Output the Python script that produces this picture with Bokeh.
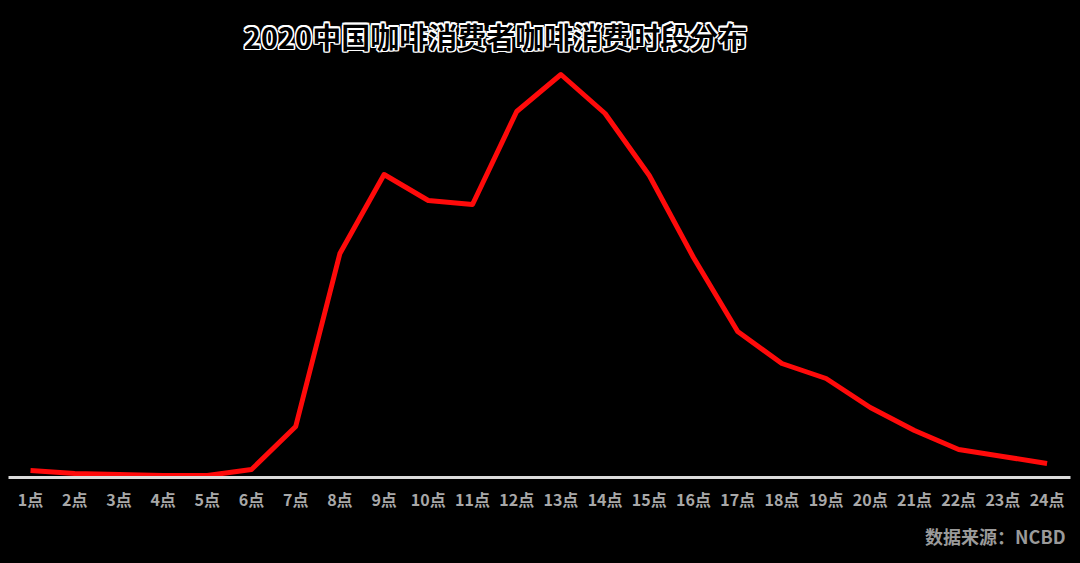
from bokeh.plotting import figure
from bokeh.models import FixedTicker, Range1d, Label, Title
from bokeh.embed import file_html
from bokeh.resources import INLINE

hours = list(range(1, 25))
hour_labels = [f"{h}点" for h in hours]
share = [7, 4, 3, 2, 2, 8, 51, 224, 303, 277, 273, 366, 403, 364, 302, 220,
         146, 114, 99, 70, 47, 28, 21, 14]
title_text = "2020中国咖啡消费者咖啡消费时段分布"
source_text = "数据来源：NCBD"

FONT = "Noto Sans CJK SC"

p = figure(width=1080, height=563, output_backend="svg", toolbar_location=None,
           x_range=Range1d(0.502, 24.53), y_range=Range1d(0, 477),
           min_border_left=8, min_border_right=10, min_border_top=0,
           min_border_bottom=86)
p.background_fill_color = "black"
p.border_fill_color = "black"
p.outline_line_color = None
p.grid.visible = False
p.yaxis.visible = False

p.line(hours, share, line_color="#ff0a0a", line_width=5, line_join="round")

ax = p.xaxis[0]
ax.ticker = FixedTicker(ticks=hours)
ax.major_label_overrides = {h: lab for h, lab in zip(hours, hour_labels)}
ax.axis_line_color = "#dcdcdc"
ax.axis_line_width = 3
ax.major_tick_line_color = None
ax.minor_tick_line_color = None
ax.major_tick_out = 0
ax.major_tick_in = 0
ax.major_label_standoff = 9
ax.major_label_text_color = "#a8a8a8"
ax.major_label_text_font = FONT
ax.major_label_text_font_style = "bold"
ax.major_label_text_font_size = "16px"

# title: black text with white outline
offs = [(-1.5, 0), (1.5, 0), (0, -1.5), (0, 1.5), (-1.2, -1.2), (1.2, 1.2), (-1.2, 1.2), (1.2, -1.2)]
for dx, dy in offs:
    p.add_layout(Label(x=487 + dx, y=442 + dy, x_units="screen", y_units="screen",
                       text=title_text, text_align="center", text_baseline="middle",
                       text_font=FONT, text_font_style="bold", text_font_size="29px",
                       text_color="white"))
p.add_layout(Label(x=487, y=442, x_units="screen", y_units="screen",
                   text=title_text, text_align="center", text_baseline="middle",
                   text_font=FONT, text_font_style="bold", text_font_size="29px",
                   text_color="black"))

p.add_layout(Title(text=source_text, align="right", offset=5, standoff=14,
                   text_font=FONT, text_font_style="bold", text_font_size="18px",
                   text_color="#9a9a9a"), "below")

html = file_html(p, INLINE)
html = html.replace("</head>", "<style>body{background:#000;margin:0;}</style></head>")
open("out.html", "w").write(html)
